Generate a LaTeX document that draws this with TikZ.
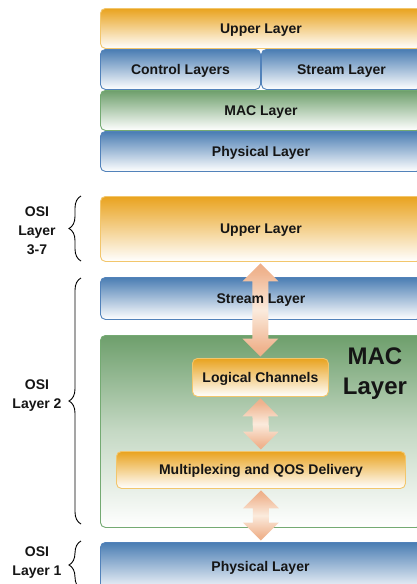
\documentclass[tikz,border=0pt]{standalone}
\usepackage{fontspec}
\setmainfont{Liberation Sans}
\usetikzlibrary{calc,decorations.pathreplacing}
\definecolor{org}{HTML}{E9A31F}
\definecolor{orgb}{HTML}{F2C66C}
\definecolor{blu}{HTML}{4A7DB3}
\definecolor{blub}{HTML}{5282BA}
\definecolor{grn}{HTML}{6E9F6C}
\definecolor{grnb}{HTML}{74AA72}
\definecolor{arr}{HTML}{E8915E}
\definecolor{arrl}{HTML}{FBEBDD}
\definecolor{txt}{HTML}{151515}
\pgfdeclareverticalshading{arrsh}{100bp}{color(0bp)=(arr); color(30bp)=(arr!60!arrl); color(50bp)=(arrl); color(70bp)=(arr!60!arrl); color(100bp)=(arr)}
\newcommand{\dblarrow}[2]{%
  \path[shading=arrsh] ($(#1)+(0,1.5)$) -- ($(#1)+(18,19.5)$) -- ($(#1)+(8,19.5)$)
    -- ($(#2)+(8,-19.5)$) -- ($(#2)+(18,-19.5)$) -- ($(#2)+(0,-1.5)$)
    -- ($(#2)+(-18,-19.5)$) -- ($(#2)+(-8,-19.5)$) -- ($(#1)+(-8,19.5)$)
    -- ($(#1)+(-18,19.5)$) -- cycle;}
\begin{document}
\begin{tikzpicture}[x=1pt,y=-1pt,
  font=\bfseries\fontsize{14}{16}\selectfont, text=txt,
  box/.style={draw, rounded corners=5pt, line width=0.9pt, anchor=north west,
    inner sep=0pt, minimum width=321pt, text height=10pt, text depth=0pt},
  obox/.style={box, draw=orgb, top color=org, middle color=org!30!white, bottom color=white},
  bbox/.style={box, draw=blub, top color=blu, middle color=blu!30!white, bottom color=white},
  gbox/.style={box, draw=grnb, top color=grn, middle color=grn!35!white, bottom color=white},
  lbl/.style={text height=10pt, text depth=0pt, inner sep=0pt},
  osibrace/.style={draw=black, line width=0.9pt, decorate, decoration={brace, amplitude=12pt}},
  osi/.style={align=center, font=\bfseries\fontsize{14}{19}\selectfont}
]
\clip (0,0) rectangle (417,584);
\fill[white] (0,0) rectangle (417,584);

% ---- top stack ----
\node[obox, minimum height=40pt] (up1) at (100,8) {Upper Layer};
\node[bbox, minimum height=40pt, minimum width=160pt] (cl1) at (100,49) {Control Layers};
\node[bbox, minimum height=40pt, minimum width=160pt] (sl1) at (261,49) {Stream Layer};
\node[gbox, minimum height=40pt] (mac1) at (100,90) {MAC Layer};
\node[bbox, minimum height=40pt] (ph1) at (100,131) {Physical Layer};

% ---- detailed stack ----
\node[obox, minimum height=65pt] (up2) at (100,196) {Upper Layer};
\node[bbox, minimum height=42pt] (sl2) at (100,277) {};
\node[gbox, minimum height=192pt, middle color=grn!40!white] (mac2) at (100,335) {};
\node[obox, minimum height=38pt, minimum width=136pt] (lc) at (192,358) {Logical Channels};
\node[obox, minimum height=37pt, minimum width=289pt] (mux) at (116,451) {Multiplexing and QOS Delivery};
\node[bbox, minimum height=50pt] (ph2) at (100,542) {};
\node[align=center, font=\bfseries\fontsize{24}{30}\selectfont] (maclbl) at (375,374) {MAC\\Layer};

% ---- arrows ----
\coordinate (a1) at (lc.north |- up2.south);
\dblarrow{a1}{lc.north}
\dblarrow{lc.south}{mux.north}
\coordinate (a3) at (mux.south |- ph2.north);
\dblarrow{mux.south}{a3}

% ---- texts over arrows ----
\node[lbl] (sl2t) at (sl2.center) {Stream Layer};
\node[lbl] (ph2t) at (260.5,566) {Physical Layer};

% ---- braces ----
\coordinate (b1t) at (81,196);
\coordinate (b1b) at (81,261);
\coordinate (b2t) at (81,278);
\coordinate (b2b) at (81,524);
\coordinate (b3t) at (81,541);
\coordinate (b3b) at (81,589);
\draw[osibrace] (b1b) -- (b1t);
\draw[osibrace] (b2b) -- (b2t);
\draw[osibrace] (b3b) -- (b3t);
\node[osi] (o1) at (37,231) {OSI\\Layer\\3-7};
\node[osi] (o2) at (37,396) {OSI\\Layer 2};
\node[osi] (o3) at (37,563) {OSI\\Layer 1};
\end{tikzpicture}
\end{document}
